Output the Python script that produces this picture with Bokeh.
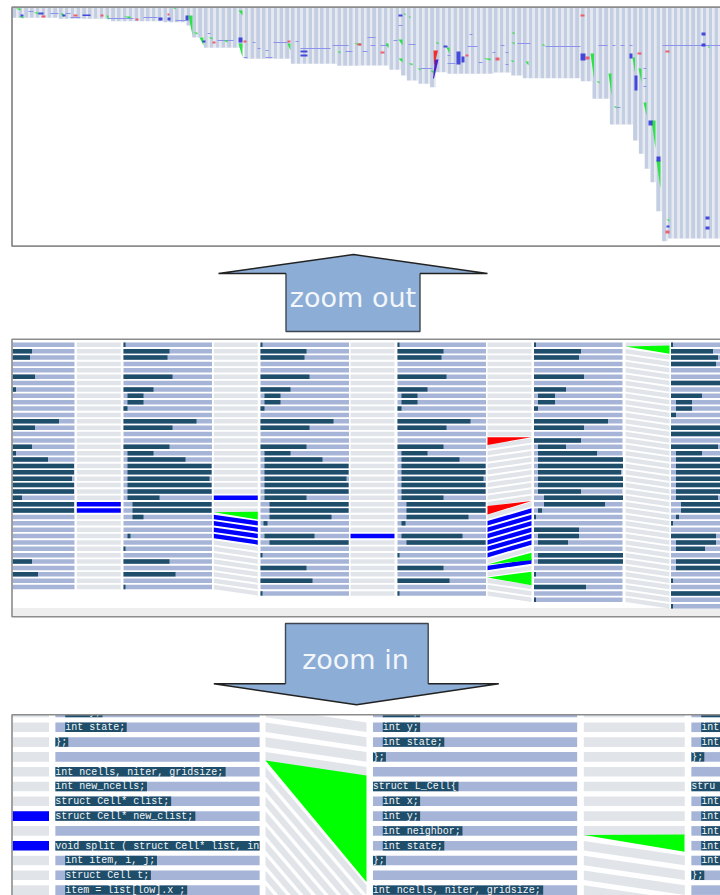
from bokeh.plotting import figure
from bokeh.models import Range1d
from bokeh.core.properties import value
from bokeh.embed import file_html
from bokeh.resources import INLINE

# ---------- overview strip: bottom edge of each file-version column ----------
overview_bottom = [
    17.3, 17.3, 17.3, 17.3, 17.3, 17.3, 17.3, 17.3,
    18.3, 18.3, 18.3, 18.3, 18.3, 18.3, 18.3, 18.3, 18.3,
    20.7, 20.7, 20.7, 20.7, 20.7, 20.7, 20.7, 20.7, 20.7,
    21.7, 21.7, 21.7, 21.7, 25, 37, 37,
    47.3, 47.3, 47.3, 47.3, 47.3, 47.3, 47.3,
    58.3, 58.3, 58.3, 58.3, 58.3, 58.3, 58.3, 58.3,
    63.3, 63.3, 63.3, 63.3, 63.3, 63.3, 63.3, 63.3,
    65.3, 65.3, 65.3, 65.3, 65, 65, 65, 65, 65,
    69.3, 69.3, 75, 80, 80, 83.3, 83.3, 86.7, 71.7, 71.7,
    73.3, 73.3, 73.3, 73.3, 73.3, 73.3, 73.3, 73.3,
    72, 72, 72, 75, 75,
    77.7, 77.7, 77.7, 77.7, 77.7, 77.7, 77.7, 77.7, 77.7, 77.7,
    80.7, 80.7, 98.3, 98.3, 98.3, 124, 124, 124, 124,
    140, 153.3, 168.3, 181.7, 210.7, 240.7,
    238, 238, 238, 238, 238, 238, 238, 238, 238,
]

ov_thin_x0 = [28, 50, 65, 70, 107, 143, 175, 207, 217, 243, 252, 257, 265, 265, 273, 295, 300, 332, 345, 362, 367, 370, 380, 393, 398, 408, 420, 447, 447, 467, 469, 478, 492, 500, 505, 505, 517, 545, 598, 612, 620, 629, 616, 643, 643, 643, 662]
ov_thin_x1 = [33, 58, 70, 80, 133, 157, 185, 210, 233, 247, 255, 260, 268, 272, 287, 298, 330, 348, 352, 367, 375, 375, 388, 397, 402, 415, 432, 455, 450, 477, 472, 482, 495, 504, 508, 508, 530, 580, 607, 615, 624, 632, 620, 646, 646, 646, 720]
ov_thin_y = [11, 13, 13, 17, 18, 17, 20, 33, 40, 57, 42, 48, 50, 57, 42, 41, 48, 45, 51, 51, 37, 45, 45, 40, 25, 44, 68, 63, 55, 46, 34, 62, 52, 45, 52, 64, 43, 46, 45, 45, 45, 45, 107, 68, 78, 86, 45]

ov_blue_x0 = [20, 38, 62, 82, 158, 167, 185, 202, 238, 300, 300, 398, 443, 456, 461, 580, 629, 634, 648, 656, 666, 701, 701, 705, 705]
ov_blue_x1 = [23, 43, 65, 90, 162, 170, 188, 205, 242, 307, 307, 402, 447, 460, 464, 585, 632, 637, 652, 660, 669, 705, 705, 709, 709]
ov_blue_y0 = [14, 12, 14, 14, 17, 17, 15, 40, 37, 50, 54, 14, 45, 51, 56, 53, 53, 75, 120, 156, 225, 32, 43, 216, 226]
ov_blue_y1 = [16, 14, 16, 15.5, 20, 20, 20, 42, 42, 52, 56, 16, 47, 64, 62, 60, 58, 90, 125, 161, 227, 35, 46, 219, 229]

# green wedges: wide at the top, narrowing to the lower right
ov_green_x0 = [15, 18, 33, 60, 106, 123, 172, 188, 193, 199, 208, 223, 238, 238, 287, 337, 353, 385, 398, 398, 403, 408, 408, 417, 430, 435, 446, 483, 511, 511, 510, 525, 541, 590, 596, 608, 613, 632, 638, 643, 651, 656, 666, 707]
ov_green_x1 = [20, 23, 38, 63, 108, 130, 175, 192, 197, 203, 212, 227, 242, 242, 290, 340, 360, 388, 402, 402, 405, 410, 412, 420, 433, 438, 449, 490, 514, 514, 513, 528, 544, 593.5, 599, 611, 616, 634.5, 641, 646, 655, 660, 669, 709]
ov_green_y0 = [8, 16, 12, 13, 15, 16, 7, 15, 32, 37, 37, 40, 10, 43, 43, 51, 43, 43, 39, 58, 13, 16, 63, 68, 70, 42, 47, 58, 32, 42, 60, 61, 44, 53, 81, 73, 106, 57, 68, 102, 120, 160, 219, 46]
ov_green_y1 = [10, 18, 14, 17, 20, 18, 9, 35, 34, 45, 39, 42, 15, 57, 50, 53, 45, 48, 45, 62, 15, 18, 65, 70, 73, 44, 53, 60, 34, 44, 62, 65, 46, 78, 83, 95, 108, 72, 82, 115, 148, 188, 221, 48]

ov_red_x0 = [41, 73, 100, 135, 167, 212, 243, 287, 357, 359, 380, 465, 495, 580, 585, 637, 665, 665]
ov_red_x1 = [45, 77, 103, 138, 169, 215, 246, 290, 360, 361, 384, 468, 499, 584, 589, 641, 669, 669]
ov_red_y0 = [15, 14, 14, 18, 13, 41, 40, 40, 43, 43, 51, 54, 57, 14, 56, 52, 50, 230]
ov_red_y1 = [17, 16, 16, 20, 15, 43, 42, 42, 45, 45, 53, 56, 60, 16, 59, 54, 52, 233]

# the long red and violet wedges near the middle of the overview
ov_wedge_red_x = [433, 437.5, 433.5]
ov_wedge_red_y = [50, 50, 66]
ov_wedge_violet_x = [434.5, 438, 433.5, 432.5]
ov_wedge_violet_y = [59, 59, 78, 78]

# ---------- middle panel: highlighted source lines (row, start, end) per code column ----------
a_rows = [0, 1, 2, 5, 7, 8, 9, 10, 12, 13, 16, 17, 18, 19, 20, 21, 22, 23, 24, 25, 26, 27, 30, 32, 34, 36, 38]
a_start = [0, 0, 0, 0, 0, 4, 4, 0, 0, 0, 0, 4, 4, 4, 4, 4, 4, 4, 4, 9, 9, 9, 4, 0, 0, 0, 0]
a_end = [2, 46, 44, 49, 30, 20, 20, 4, 73, 49, 46, 30, 62, 88, 88, 86, 88, 88, 36, 88, 88, 20, 7, 2, 46, 52, 2]

e_rows = [0, 1, 2, 5, 7, 8, 9, 10, 12, 13, 16, 17, 18, 19, 20, 21, 22, 23, 24, 25, 26, 27, 28, 30, 31, 33, 35, 37, 39]
e_start = [0, 0, 0, 0, 0, 4, 4, 0, 0, 0, 0, 4, 4, 4, 4, 4, 4, 4, 4, 9, 9, 9, 3, 4, 9, 0, 0, 0, 0]
e_end = [2, 46, 44, 49, 30, 20, 20, 4, 73, 49, 46, 30, 62, 88, 88, 86, 88, 88, 46, 88, 88, 71, 7, 54, 88, 2, 46, 52, 2]

g_rows = e_rows
g_start = [0, 0, 0, 0, 0, 4, 4, 0, 0, 0, 0, 4, 4, 4, 4, 4, 4, 4, 4, 9, 9, 9, 4, 4, 9, 0, 0, 0, 0]
g_end = [2, 46, 44, 49, 30, 20, 20, 4, 73, 49, 46, 30, 62, 88, 88, 86, 88, 88, 46, 88, 88, 71, 8, 65, 88, 2, 46, 52, 2]

i_rows = [0, 1, 2, 5, 7, 8, 9, 10, 12, 13, 15, 16, 17, 18, 19, 20, 21, 22, 23, 24, 25, 26, 27, 29, 30, 31, 33, 34, 36, 38, 40]
i_start = [0, 0, 0, 0, 0, 4, 4, 0, 0, 0, 0, 4, 4, 4, 4, 4, 4, 4, 4, 10, 10, 4, 0, 0, 4, 4, 4, 4, 0, 0, 0]
i_end = [2, 47, 45, 50, 32, 21, 21, 4, 74, 50, 47, 32, 63, 89, 89, 87, 89, 89, 47, 89, 71, 8, 2, 45, 45, 34, 89, 89, 2, 52, 2]

k_rows = [0, 1, 2, 3, 6, 8, 9, 10, 11, 13, 14, 16, 17, 18, 19, 20, 21, 22, 23, 24, 25, 26, 27, 28, 30, 31, 32, 34, 35, 37, 39, 41]
k_start = [0, 0, 0, 0, 0, 0, 5, 5, 0, 0, 0, 0, 5, 5, 5, 5, 5, 5, 5, 5, 10, 10, 5, 0, 0, 5, 5, 5, 5, 0, 0, 0]
k_end = [2, 42, 47, 45, 60, 31, 21, 21, 5, 60, 60, 47, 31, 60, 60, 60, 60, 60, 60, 47, 60, 60, 8, 2, 45, 45, 34, 60, 60, 2, 60, 2]

# row links across each diff column: left row -> right row, kind 0 grey / 1 blue
b_left = list(range(39)); b_right = list(range(39)); b_blue = [25, 26]
d_left = list(range(39)); d_right = list(range(27)) + list(range(28, 40)); d_blue = [24, 27, 28, 29, 30]
f_left = list(range(40)); f_right = list(range(40)); f_blue = [30]
h_left = list(range(15)) + list(range(16, 26)) + [27] + list(range(28, 34)) + [34, 35, 36, 37, 38, 39]
h_right = list(range(15)) + list(range(15, 25)) + [25] + list(range(26, 32)) + [32, 34, 35, 38, 39, 40]
h_blue = [28, 29, 30, 31, 32, 33, 35]
j_left = [0] + list(range(1, 41)); j_right = [0] + list(range(2, 42)); j_blue = []

# (left row of tip, right row top, right row bottom)
d_green = (26.25, 26.2, 27.4)
h_green_a = (34.45, 32.6, 33.8)
h_green_b = (36.5, 35.6, 37.7)
j_green = (0.25, 0.1, 1.4)
# (tip on right row, left row top, left row bottom)
h_red_a = (14.5, 14.5, 15.7)
h_red_b = (24.5, 25.3, 26.6)

# ---------- bottom panel: source text ----------
txt_b = ["int y;", "int state;", "};", "", "int ncells, niter, gridsize;", "int new_ncells;", "struct Cell* clist;",
         "struct Cell* new_clist;", "", "void split ( struct Cell* list, int", "int item, i, j;", "struct Cell t;", "item = list[low].x ;"]
ind_b = [1, 1, 0, 0, 0, 0, 0, 0, 0, 0, 1, 1, 1]
txt_d = ["int x;", "int y;", "int state;", "};", "", "struct L_Cell{", "int x;", "int y;", "int neighbor;", "int state;", "};", "",
         "int ncells, niter, gridsize;"]
ind_d = [1, 1, 1, 0, 0, 0, 1, 1, 1, 1, 0, 0, 0]
txt_f = ["int", "int", "int", "};", "", "stru", "int", "int", "int", "int", "int", "};", ""]
ind_f = [1, 1, 1, 0, 0, 0, 1, 1, 1, 1, 1, 0, 0]
a_grey_blue = [7, 9]           # rows of the clipped left grey column painted blue
c_links_left = [0, 1, 2, 3, 4, 5, 6, 7, 8, 9, 10, 11, 12]
c_links_right = [1, 2, 3, 4, 12, 13, 14, 15, 16, 17, 18, 19, 20]
e_links_left = [0, 1, 2, 3, 4, 5, 6, 7, 8, 9, 10, 11, 12]
e_links_right = [0, 1, 2, 3, 4, 5, 6, 7, 8, 10, 11, 12, 13]

labels = ["zoom out", "zoom in"]

# ---------- styles / layout ----------
CODE = "#a6b4d7"; DARK = "#1f4e6b"; GREY = "#e1e5ea"; WHITE = "#ffffff"
FRAME = "#8c8c8c"; ARROW = "#8cadd5"
BLUE = "#0000ff"; GREEN = "#00ff00"; RED = "#ff0000"

p = figure(width=720, height=895, x_range=Range1d(0, 720), y_range=Range1d(895, 0),
           toolbar_location=None, output_backend="svg", min_border=0, outline_line_color=None,
           background_fill_color=WHITE, border_fill_color=WHITE)
p.axis.visible = False
p.grid.visible = False


def rects(x0, x1, y0, y1, color, alpha=1.0):
    p.quad(left=x0, right=x1, top=y0, bottom=y1, fill_color=color, line_color=None, fill_alpha=alpha)


def polys(xs, ys, color, alpha=1.0):
    p.patches(xs, ys, fill_color=color, line_color=None, fill_alpha=alpha)


# ---------- overview ----------
OV_X0, OV_PITCH = 12.0, 5.8
n = len(overview_bottom)
rects([OV_X0 + i * OV_PITCH for i in range(n)], [OV_X0 + i * OV_PITCH + 3.9 for i in range(n)],
      [7] * n, overview_bottom, "#c4cee3")
rects([OV_X0 + i * OV_PITCH + 3.9 for i in range(n)], [OV_X0 + i * OV_PITCH + 5.8 for i in range(n)],
      [7] * n, overview_bottom, "#e6e9ef")
rects(ov_thin_x0, ov_thin_x1, [y - 0.5 for y in ov_thin_y], [y + 0.5 for y in ov_thin_y], "#8d92ec")
polys([[a, b, b] for a, b in zip(ov_green_x0, ov_green_x1)],
      [[t, t, u] for t, u in zip(ov_green_y0, ov_green_y1)], "#2fe04a")
rects(ov_blue_x0, ov_blue_x1, ov_blue_y0, ov_blue_y1, "#2a2fd8", 0.85)
rects(ov_red_x0, ov_red_x1, ov_red_y0, ov_red_y1, "#ee4a5a", 0.85)
polys([ov_wedge_red_x], [ov_wedge_red_y], "#f03030")
polys([ov_wedge_violet_x], [ov_wedge_violet_y], "#4a20c8")

# ---------- middle ----------
ROW0, PITCH, RH = 344.3, 6.375, 4.5
CODE_W, DIFF_W = 88.5, 44


def ry(r):
    return ROW0 + r * PITCH


def code_col(left, nrows, rows, start, end):
    rects([max(left, 12)] * nrows, [left + CODE_W] * nrows,
          [ry(r) - RH / 2 for r in range(nrows)], [ry(r) + RH / 2 for r in range(nrows)], CODE)
    kept = [(r, s, e) for r, s, e in zip(rows, start, end) if left + e > 12]
    rects([max(left + s, 12) for r, s, e in kept], [left + e for r, s, e in kept],
          [ry(r) - 2.2 for r, s, e in kept], [ry(r) + 2.2 for r, s, e in kept], DARK)


def diff_col(left, lrows, rrows, blue):
    xs, ys, bx, by_ = [], [], [], []
    l, r = left, left + DIFF_W
    for a, b in zip(lrows, rrows):
        hh = 2.2
        px = [l, r, r, l]
        py = [ry(a) - hh, ry(b) - hh, ry(b) + hh, ry(a) + hh]
        if a in blue:
            bx.append(px); by_.append(py)
        else:
            xs.append(px); ys.append(py)
    polys(xs, ys, GREY)
    if bx:
        polys(bx, by_, BLUE)


def tri_right(left, tip, top, bot, color):
    polys([[left, left + DIFF_W, left + DIFF_W]], [[ry(tip), ry(top), ry(bot)]], color)


def tri_left(left, tip, top, bot, color):
    polys([[left + DIFF_W, left, left]], [[ry(tip), ry(top), ry(bot)]], color)


rects([12], [720], [607.5], [616], "#eeeeee")
code_col(-14.5, 39, a_rows, a_start, a_end)
code_col(123, 39, a_rows, a_start, a_end)
code_col(260, 40, e_rows, e_start, e_end)
code_col(397, 40, g_rows, g_start, g_end)
code_col(533.5, 41, i_rows, i_start, i_end)
code_col(670.5, 42, k_rows, k_start, k_end)
diff_col(76.3, b_left, b_right, b_blue)
diff_col(213.3, d_left, d_right, d_blue)
diff_col(350, f_left, f_right, f_blue)
diff_col(487, h_left, h_right, h_blue)
diff_col(625, j_left, j_right, j_blue)
tri_right(213.3, *d_green, GREEN)
tri_right(487, *h_green_a, GREEN)
tri_right(487, *h_green_b, GREEN)
tri_right(625, *j_green, GREEN)
tri_left(487, *h_red_a, RED)
tri_left(487, *h_red_b, RED)

# ---------- bottom ----------
BROW0, BPITCH, BRH = 712.0, 14.8, 9.6
BCODE_W, BDIFF_L, BCHAR, BIND = 204.6, 101, 6.05, 10


def by(r):
    return BROW0 + r * BPITCH


def bcode(left, txt, ind):
    m = len(txt)
    right = min(left + BCODE_W, 720)
    rects([left] * m, [right] * m, [by(r) - BRH / 2 for r in range(m)],
          [by(r) + BRH / 2 for r in range(m)], CODE)
    rows = [r for r in range(m) if txt[r]]
    bx0 = [left + ind[r] * BIND for r in rows]
    bx1 = [min(left + ind[r] * BIND + len(txt[r]) * BCHAR + 1, right) for r in rows]
    if right == 720:
        bx1 = [720 if len(txt[r]) > 2 else b for r, b in zip(rows, bx1)]
    rects(bx0, bx1, [by(r) - 4.7 for r in rows], [by(r) + 4.7 for r in rows], DARK)
    p.text(x=bx0, y=[by(r) + 0.3 for r in rows], text=[txt[r] for r in rows], text_color="#f4f6f8",
           text_font=value("Liberation Mono"), text_font_size="10px", text_baseline="middle", text_align="left")


def bdiff(left, lrows, rrows):
    xs, ys = [], []
    for a, b in zip(lrows, rrows):
        xs.append([left, left + BDIFF_L, left + BDIFF_L, left])
        ys.append([by(a) - BRH / 2, by(b) - BRH / 2, by(b) + BRH / 2, by(a) + BRH / 2])
    polys(xs, ys, GREY)


rects([12] * 13, [48.5] * 13, [by(r) - BRH / 2 for r in range(13)], [by(r) + BRH / 2 for r in range(13)], GREY)
rects([12] * 2, [48.5] * 2, [by(r) - BRH / 2 for r in a_grey_blue], [by(r) + BRH / 2 for r in a_grey_blue], BLUE)
bcode(54.7, txt_b, ind_b)
bcode(372.3, txt_d, ind_d)
bcode(690.7, txt_f, ind_f)
rects([259.3, 48.5, 576.9], [372.3, 54.7, 690.7], [700] * 3, [895] * 3, WHITE)
bdiff(265, c_links_left, c_links_right)
bdiff(583.3, e_links_left, e_links_right)
polys([[265, 366, 366]], [[760, 775, 881.5]], GREEN)
polys([[583.3, 684, 684]], [[834.5, 834, 851.3]], GREEN)

# ---------- frames, covers, arrows ----------
rects([0], [720], [616.5], [714], WHITE)
p.line([720, 11.5, 11.5, 720], [245.7, 245.7, 6.7, 6.7], line_color=FRAME, line_width=1.8)
p.line([720, 11.5, 11.5, 720], [338.7, 338.7, 616.3, 616.3], line_color=FRAME, line_width=1.6)
p.line([720, 11.5, 11.5], [714.3, 714.3, 895], line_color=FRAME, line_width=1.6)

polys([[353, 487, 419.5, 419.5, 285.5, 285.5, 218]], [[254, 273, 273, 331, 331, 273, 273]], ARROW)
p.line([285.5, 285.5, 419.5, 419.5], [273, 331, 331, 273], line_color="#3d4650", line_width=1.4)
p.line([285.5, 218, 353, 487, 419.5], [273, 273, 254, 273, 273], line_color="#222222", line_width=1.4)

polys([[285, 427.7, 427.7, 498.3, 356, 213.3, 285]], [[623, 623, 683.3, 683.3, 704.3, 683.3, 683.3]], ARROW)
p.line([285, 285, 427.7, 427.7], [683.3, 623, 623, 683.3], line_color="#3d4650", line_width=1.4)
p.line([285, 213.3, 356, 498.3, 427.7], [683.3, 683.3, 704.3, 683.3, 683.3], line_color="#222222", line_width=1.4)

p.text(x=[352.5, 355], y=[297, 659], text=labels, text_color="#f3f6fa", text_font=value("DejaVu Sans"),
       text_font_size="27px", text_align="center", text_baseline="middle")

open("out.html", "w").write(file_html(p, INLINE))
